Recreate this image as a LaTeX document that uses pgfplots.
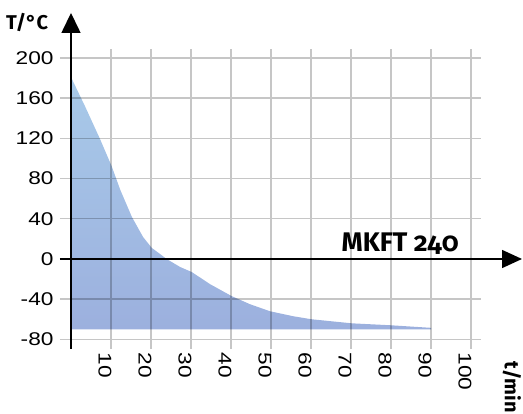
\documentclass[border=0pt]{standalone}
\usepackage{pgfplots}
\pgfplotsset{compat=1.18}
\usepackage{fontspec}
\setmainfont{Liberation Sans}
\newfontfamily\tickfont[FakeStretch=1.23]{Liberation Sans}
\newfontfamily\headfont[Numbers=OldStyle]{Fira Sans}
\usetikzlibrary{arrows.meta}

\definecolor{gridgray}{RGB}{198,198,198}
\definecolor{filltop}{RGB}{168,202,233}
\definecolor{fillbot}{RGB}{156,176,222}

\begin{document}
\begin{tikzpicture}
\begin{axis}[
  scale only axis,
  width=421bp, height=300bp,
  xmin=-2.75, xmax=102.5,
  ymin=-89.5, ymax=209,
  axis line style={draw=none},
  major tick length=0pt,
  xtick={10,20,...,100},
  ytick={-80,-40,0,40,80,120,160,200},
  grid=major,
  major grid style={gridgray, line width=1.4bp},
  tick label style={font=\tickfont\fontsize{18.5}{20}\selectfont},
  yticklabel style={xshift=-3bp},
  xticklabel style={rotate=-90, anchor=west, yshift=-6bp},
  /pgf/number format/assume math mode=true,
  clip=false,
]
% cooling curve, filled down to the final temperature
\addplot[draw=none, top color=filltop, bottom color=fillbot, blend mode=multiply]
  coordinates {
  (0,-70) (0,181) (3.5,152) (7.3,119) (10.2,92) (12.3,69) (15.2,42)
  (18,22) (20.2,11) (22.25,5) (23.9,0) (27.3,-8) (30.2,-13) (34.75,-25)
  (40.2,-37) (44.75,-45) (49.75,-52) (55.6,-57) (60.2,-60) (70.2,-64)
  (80.2,-66) (90,-68.5) (90,-70)
  } -- cycle;

\draw[line width=1.5bp, -{Triangle[length=20bp, width=19bp]}]
  (axis cs:0,-89.5) -- (axis cs:0,244.8);
\draw[line width=1.5bp, -{Triangle[length=20bp, width=18bp]}]
  (axis cs:-2.75,0) -- (axis cs:112.75,0);

\node[font=\headfont\bfseries\fontsize{20}{22}\selectfont] at (axis cs:-11,235) {T/°C};
\node[font=\headfont\bfseries\fontsize{20}{22}\selectfont, rotate=-90] at (axis cs:110.25,-127.4) {t/min};
\node[font=\headfont\bfseries\fontsize{27}{30}\selectfont, anchor=base] at (axis cs:82.3,7.3) {MKFT 240};

\coordinate (bl) at (axis cs:-17.75,-154.2);
\coordinate (tr) at (axis cs:113,257.7);
\end{axis}
\pgfresetboundingbox
\path (bl) rectangle (tr);
\end{tikzpicture}
\end{document}
